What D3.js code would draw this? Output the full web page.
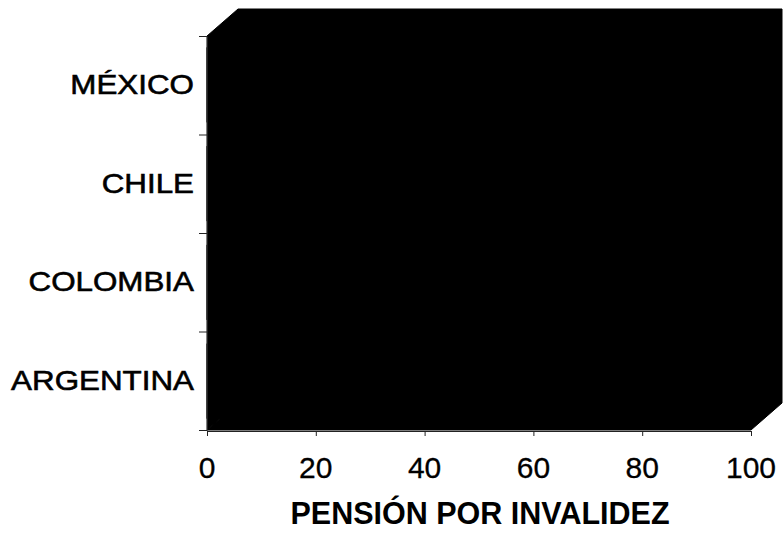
<!DOCTYPE html>
<html>
<head>
<meta charset="utf-8">
<script src="https://cdn.jsdelivr.net/npm/d3@7"></script>
<style>
body { margin: 0; background: #fff; }
svg { display: block; }
</style>
</head>
<body>
<svg width="783" height="554"></svg>
<script>
var categories = ["MÉXICO", "CHILE", "COLOMBIA", "ARGENTINA"];
var values = [100, 100, 100, 100];
var xTicks = [0, 20, 40, 60, 80, 100];
var axisTitle = "PENSIÓN POR INVALIDEZ";

var svg = d3.select("svg");
var font = "'Liberation Sans', Arial, sans-serif";

var x0 = 207, x1 = 751, y0 = 36, y1 = 430;
var dx = 31, dy = -27; // depth of the 3d box

var xScale = d3.scaleLinear().domain([0, 100]).range([x0, x1]);
var yScale = d3.scaleBand().domain(categories).range([y0, y1]).paddingInner(0.25).paddingOuter(0.12);
var yBounds = d3.scaleLinear().domain([0, categories.length]).range([y1, y0]);

function poly(pts) {
  return pts.map(function(p) { return p.join(","); }).join(" ");
}

// walls
var walls = svg.append("g").attr("fill", "#000").attr("stroke", "#000");
walls.append("polygon") // back
  .attr("points", poly([[x0 + dx, y0 + dy], [x1 + dx, y0 + dy], [x1 + dx, y1 + dy], [x0 + dx, y1 + dy]]));
walls.append("polygon") // left side
  .attr("points", poly([[x0, y0], [x0 + dx, y0 + dy], [x0 + dx, y1 + dy], [x0, y1]]));
walls.append("polygon") // floor
  .attr("points", poly([[x0, y1], [x1, y1], [x1 + dx, y1 + dy], [x0 + dx, y1 + dy]]));

// bars (3d boxes)
var bars = svg.append("g").selectAll("g")
  .data(categories)
  .enter()
  .append("g")
  .attr("fill", "#000").attr("stroke", "#000");

bars.each(function(d, i) {
  var g = d3.select(this);
  var bx0 = xScale(0), bx1 = xScale(values[i]);
  var by0 = yScale(d), by1 = yScale(d) + yScale.bandwidth();
  var ddx = dx * 0.8, ddy = dy * 0.8;
  g.append("polygon").attr("points", poly([[bx0, by0], [bx0 + ddx, by0 + ddy], [bx1 + ddx, by0 + ddy], [bx1, by0]]));
  g.append("polygon").attr("points", poly([[bx1, by0], [bx1 + ddx, by0 + ddy], [bx1 + ddx, by1 + ddy], [bx1, by1]]));
  g.append("rect").attr("x", bx0).attr("y", by0).attr("width", bx1 - bx0).attr("height", by1 - by0);
});

// category axis
var yAxis = d3.axisLeft(yBounds).ticks(categories.length).tickFormat("").tickSizeInner(8).tickSizeOuter(0);
var gy = svg.append("g").attr("transform", "translate(" + x0 + ",0)").call(yAxis);
gy.selectAll("line, path").attr("stroke", "#222");

svg.append("g").selectAll("text")
  .data(categories)
  .enter()
  .append("text")
  .attr("transform", function(d) {
    return "translate(194," + (yScale(d) + yScale.bandwidth() / 2 + 9) + ") scale(1.12,1)";
  })
  .attr("text-anchor", "end")
  .style("font-family", font)
  .style("font-size", "28px")
  .attr("fill", "#000")
  .attr("stroke", "#000")
  .attr("stroke-width", 0.6)
  .text(function(d) { return d; });

// value axis
var xAxis = d3.axisBottom(xScale).tickValues(xTicks).tickFormat("").tickSizeInner(5).tickSizeOuter(0);
var gx = svg.append("g").attr("transform", "translate(0," + (y1 + 1) + ")").call(xAxis);
gx.selectAll("line, path").attr("stroke", "#222");

svg.append("g").selectAll("text")
  .data(xTicks)
  .enter()
  .append("text")
  .attr("x", function(d) { return xScale(d); })
  .attr("y", 478)
  .attr("text-anchor", "middle")
  .style("font-family", font)
  .style("font-size", "30px")
  .attr("fill", "#000")
  .attr("stroke", "#000")
  .attr("stroke-width", 0.3)
  .text(function(d) { return d; });

svg.append("text")
  .attr("x", 480)
  .attr("y", 524)
  .attr("text-anchor", "middle")
  .style("font-family", font)
  .style("font-size", "30.5px")
  .style("font-weight", "bold")
  .attr("fill", "#000")
  .text(axisTitle);
</script>
</body>
</html>
